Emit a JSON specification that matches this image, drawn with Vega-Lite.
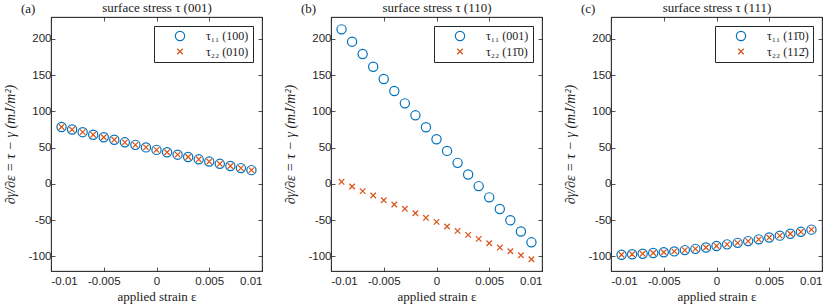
{
  "$schema": "https://vega.github.io/schema/vega-lite/v6.json",
  "padding": {"left": 3, "top": 1, "right": 10, "bottom": 0},
  "background": "white",
  "spacing": 20,
  "config": {
    "view": {"stroke": "#262626", "strokeWidth": 0.8},
    "axis": {
      "grid": false,
      "domainColor": "#262626", "domainWidth": 0.8,
      "tickColor": "#262626", "tickWidth": 0.8, "tickSize": -4,
      "labelColor": "#262626", "labelFont": "Liberation Sans", "labelFontSize": 11.5,
      "titleFont": "Liberation Serif", "titleFontSize": 13, "titleFontWeight": "normal", "titleColor": "#1a1a1a"
    },
    "legend": {
      "labelFont": "Liberation Serif", "labelFontSize": 12, "labelColor": "#1a1a1a",
      "strokeColor": "#262626", "fillColor": "white", "padding": 4,
      "symbolOffset": 16, "labelOffset": 20, "rowPadding": 1.5,
      "symbolSize": 85, "symbolStrokeWidth": 1.2, "symbolOpacity": 1
    },
    "title": {"font": "Liberation Serif", "fontSize": 13, "fontWeight": "normal", "color": "#1a1a1a"}
  },
  "resolve": {"scale": {"color": "independent", "shape": "independent"}},
  "datasets": {
    "d": [
      {"panel": "a", "series": "τ₁₁ (100)", "eps": -0.009, "val": 78.5},
      {"panel": "a", "series": "τ₁₁ (100)", "eps": -0.008, "val": 74.9},
      {"panel": "a", "series": "τ₁₁ (100)", "eps": -0.007, "val": 71.3},
      {"panel": "a", "series": "τ₁₁ (100)", "eps": -0.006, "val": 67.8},
      {"panel": "a", "series": "τ₁₁ (100)", "eps": -0.005, "val": 64.3},
      {"panel": "a", "series": "τ₁₁ (100)", "eps": -0.004, "val": 60.8},
      {"panel": "a", "series": "τ₁₁ (100)", "eps": -0.003, "val": 57.3},
      {"panel": "a", "series": "τ₁₁ (100)", "eps": -0.002, "val": 53.8},
      {"panel": "a", "series": "τ₁₁ (100)", "eps": -0.001, "val": 50.3},
      {"panel": "a", "series": "τ₁₁ (100)", "eps": 0.0, "val": 46.9},
      {"panel": "a", "series": "τ₁₁ (100)", "eps": 0.001, "val": 43.6},
      {"panel": "a", "series": "τ₁₁ (100)", "eps": 0.002, "val": 40.3},
      {"panel": "a", "series": "τ₁₁ (100)", "eps": 0.003, "val": 37.1},
      {"panel": "a", "series": "τ₁₁ (100)", "eps": 0.004, "val": 33.9},
      {"panel": "a", "series": "τ₁₁ (100)", "eps": 0.005, "val": 30.8},
      {"panel": "a", "series": "τ₁₁ (100)", "eps": 0.006, "val": 27.7},
      {"panel": "a", "series": "τ₁₁ (100)", "eps": 0.007, "val": 24.7},
      {"panel": "a", "series": "τ₁₁ (100)", "eps": 0.008, "val": 21.8},
      {"panel": "a", "series": "τ₁₁ (100)", "eps": 0.009, "val": 19.0},
      {"panel": "a", "series": "τ₂₂ (010)", "eps": -0.009, "val": 78.5},
      {"panel": "a", "series": "τ₂₂ (010)", "eps": -0.008, "val": 74.9},
      {"panel": "a", "series": "τ₂₂ (010)", "eps": -0.007, "val": 71.3},
      {"panel": "a", "series": "τ₂₂ (010)", "eps": -0.006, "val": 67.8},
      {"panel": "a", "series": "τ₂₂ (010)", "eps": -0.005, "val": 64.3},
      {"panel": "a", "series": "τ₂₂ (010)", "eps": -0.004, "val": 60.8},
      {"panel": "a", "series": "τ₂₂ (010)", "eps": -0.003, "val": 57.3},
      {"panel": "a", "series": "τ₂₂ (010)", "eps": -0.002, "val": 53.8},
      {"panel": "a", "series": "τ₂₂ (010)", "eps": -0.001, "val": 50.3},
      {"panel": "a", "series": "τ₂₂ (010)", "eps": 0.0, "val": 46.9},
      {"panel": "a", "series": "τ₂₂ (010)", "eps": 0.001, "val": 43.6},
      {"panel": "a", "series": "τ₂₂ (010)", "eps": 0.002, "val": 40.3},
      {"panel": "a", "series": "τ₂₂ (010)", "eps": 0.003, "val": 37.1},
      {"panel": "a", "series": "τ₂₂ (010)", "eps": 0.004, "val": 33.9},
      {"panel": "a", "series": "τ₂₂ (010)", "eps": 0.005, "val": 30.8},
      {"panel": "a", "series": "τ₂₂ (010)", "eps": 0.006, "val": 27.7},
      {"panel": "a", "series": "τ₂₂ (010)", "eps": 0.007, "val": 24.7},
      {"panel": "a", "series": "τ₂₂ (010)", "eps": 0.008, "val": 21.8},
      {"panel": "a", "series": "τ₂₂ (010)", "eps": 0.009, "val": 19.0},

      {"panel": "b", "series": "τ₁₁ (001)", "eps": -0.009, "val": 213},
      {"panel": "b", "series": "τ₁₁ (001)", "eps": -0.008, "val": 196},
      {"panel": "b", "series": "τ₁₁ (001)", "eps": -0.007, "val": 179},
      {"panel": "b", "series": "τ₁₁ (001)", "eps": -0.006, "val": 161.5},
      {"panel": "b", "series": "τ₁₁ (001)", "eps": -0.005, "val": 144.5},
      {"panel": "b", "series": "τ₁₁ (001)", "eps": -0.004, "val": 128},
      {"panel": "b", "series": "τ₁₁ (001)", "eps": -0.003, "val": 111},
      {"panel": "b", "series": "τ₁₁ (001)", "eps": -0.002, "val": 94.5},
      {"panel": "b", "series": "τ₁₁ (001)", "eps": -0.001, "val": 78},
      {"panel": "b", "series": "τ₁₁ (001)", "eps": 0.0, "val": 61.5},
      {"panel": "b", "series": "τ₁₁ (001)", "eps": 0.001, "val": 45.5},
      {"panel": "b", "series": "τ₁₁ (001)", "eps": 0.002, "val": 29},
      {"panel": "b", "series": "τ₁₁ (001)", "eps": 0.003, "val": 13},
      {"panel": "b", "series": "τ₁₁ (001)", "eps": 0.004, "val": -3},
      {"panel": "b", "series": "τ₁₁ (001)", "eps": 0.005, "val": -18.5},
      {"panel": "b", "series": "τ₁₁ (001)", "eps": 0.006, "val": -34.5},
      {"panel": "b", "series": "τ₁₁ (001)", "eps": 0.007, "val": -50},
      {"panel": "b", "series": "τ₁₁ (001)", "eps": 0.008, "val": -65.5},
      {"panel": "b", "series": "τ₁₁ (001)", "eps": 0.009, "val": -80.5},
      {"panel": "b", "series": "τ₂₂ (11̄0)", "eps": -0.009, "val": 2.9},
      {"panel": "b", "series": "τ₂₂ (11̄0)", "eps": -0.008, "val": -3.6},
      {"panel": "b", "series": "τ₂₂ (11̄0)", "eps": -0.007, "val": -10},
      {"panel": "b", "series": "τ₂₂ (11̄0)", "eps": -0.006, "val": -16},
      {"panel": "b", "series": "τ₂₂ (11̄0)", "eps": -0.005, "val": -22.5},
      {"panel": "b", "series": "τ₂₂ (11̄0)", "eps": -0.004, "val": -28.4},
      {"panel": "b", "series": "τ₂₂ (11̄0)", "eps": -0.003, "val": -34.3},
      {"panel": "b", "series": "τ₂₂ (11̄0)", "eps": -0.002, "val": -40.4},
      {"panel": "b", "series": "τ₂₂ (11̄0)", "eps": -0.001, "val": -46.7},
      {"panel": "b", "series": "τ₂₂ (11̄0)", "eps": 0.0, "val": -52.3},
      {"panel": "b", "series": "τ₂₂ (11̄0)", "eps": 0.001, "val": -58.7},
      {"panel": "b", "series": "τ₂₂ (11̄0)", "eps": 0.002, "val": -64.7},
      {"panel": "b", "series": "τ₂₂ (11̄0)", "eps": 0.003, "val": -70.2},
      {"panel": "b", "series": "τ₂₂ (11̄0)", "eps": 0.004, "val": -75.7},
      {"panel": "b", "series": "τ₂₂ (11̄0)", "eps": 0.005, "val": -81.8},
      {"panel": "b", "series": "τ₂₂ (11̄0)", "eps": 0.006, "val": -87.7},
      {"panel": "b", "series": "τ₂₂ (11̄0)", "eps": 0.007, "val": -92.8},
      {"panel": "b", "series": "τ₂₂ (11̄0)", "eps": 0.008, "val": -98.3},
      {"panel": "b", "series": "τ₂₂ (11̄0)", "eps": 0.009, "val": -103.8},

      {"panel": "c", "series": "τ₁₁ (11̄0)", "eps": -0.009, "val": -97.6},
      {"panel": "c", "series": "τ₁₁ (11̄0)", "eps": -0.008, "val": -97.0},
      {"panel": "c", "series": "τ₁₁ (11̄0)", "eps": -0.007, "val": -96.2},
      {"panel": "c", "series": "τ₁₁ (11̄0)", "eps": -0.006, "val": -95.2},
      {"panel": "c", "series": "τ₁₁ (11̄0)", "eps": -0.005, "val": -94.2},
      {"panel": "c", "series": "τ₁₁ (11̄0)", "eps": -0.004, "val": -93.0},
      {"panel": "c", "series": "τ₁₁ (11̄0)", "eps": -0.003, "val": -91.2},
      {"panel": "c", "series": "τ₁₁ (11̄0)", "eps": -0.002, "val": -89.5},
      {"panel": "c", "series": "τ₁₁ (11̄0)", "eps": -0.001, "val": -87.6},
      {"panel": "c", "series": "τ₁₁ (11̄0)", "eps": 0.0, "val": -85.5},
      {"panel": "c", "series": "τ₁₁ (11̄0)", "eps": 0.001, "val": -83.3},
      {"panel": "c", "series": "τ₁₁ (11̄0)", "eps": 0.002, "val": -81.2},
      {"panel": "c", "series": "τ₁₁ (11̄0)", "eps": 0.003, "val": -78.8},
      {"panel": "c", "series": "τ₁₁ (11̄0)", "eps": 0.004, "val": -76.4},
      {"panel": "c", "series": "τ₁₁ (11̄0)", "eps": 0.005, "val": -73.9},
      {"panel": "c", "series": "τ₁₁ (11̄0)", "eps": 0.006, "val": -71.3},
      {"panel": "c", "series": "τ₁₁ (11̄0)", "eps": 0.007, "val": -68.7},
      {"panel": "c", "series": "τ₁₁ (11̄0)", "eps": 0.008, "val": -66.0},
      {"panel": "c", "series": "τ₁₁ (11̄0)", "eps": 0.009, "val": -63.0},
      {"panel": "c", "series": "τ₂₂ (112̄)", "eps": -0.009, "val": -97.6},
      {"panel": "c", "series": "τ₂₂ (112̄)", "eps": -0.008, "val": -97.0},
      {"panel": "c", "series": "τ₂₂ (112̄)", "eps": -0.007, "val": -96.2},
      {"panel": "c", "series": "τ₂₂ (112̄)", "eps": -0.006, "val": -95.2},
      {"panel": "c", "series": "τ₂₂ (112̄)", "eps": -0.005, "val": -94.2},
      {"panel": "c", "series": "τ₂₂ (112̄)", "eps": -0.004, "val": -93.0},
      {"panel": "c", "series": "τ₂₂ (112̄)", "eps": -0.003, "val": -91.2},
      {"panel": "c", "series": "τ₂₂ (112̄)", "eps": -0.002, "val": -89.5},
      {"panel": "c", "series": "τ₂₂ (112̄)", "eps": -0.001, "val": -87.6},
      {"panel": "c", "series": "τ₂₂ (112̄)", "eps": 0.0, "val": -85.5},
      {"panel": "c", "series": "τ₂₂ (112̄)", "eps": 0.001, "val": -83.3},
      {"panel": "c", "series": "τ₂₂ (112̄)", "eps": 0.002, "val": -81.2},
      {"panel": "c", "series": "τ₂₂ (112̄)", "eps": 0.003, "val": -78.8},
      {"panel": "c", "series": "τ₂₂ (112̄)", "eps": 0.004, "val": -76.4},
      {"panel": "c", "series": "τ₂₂ (112̄)", "eps": 0.005, "val": -73.9},
      {"panel": "c", "series": "τ₂₂ (112̄)", "eps": 0.006, "val": -71.3},
      {"panel": "c", "series": "τ₂₂ (112̄)", "eps": 0.007, "val": -68.7},
      {"panel": "c", "series": "τ₂₂ (112̄)", "eps": 0.008, "val": -66.0},
      {"panel": "c", "series": "τ₂₂ (112̄)", "eps": 0.009, "val": -63.0}
    ]
  },
  "hconcat": [
    {
      "width": 211, "height": 254,
      "title": {"text": "(a)", "anchor": "start", "frame": "bounds", "offset": -14, "dx": 17},
      "data": {"name": "d"},
      "transform": [{"filter": "datum.panel == 'a'"}],
      "resolve": {"axis": {"x": "independent", "y": "independent"}},
      "layer": [
        {
          "mark": {"type": "point", "filled": false, "strokeWidth": 1.2, "size": 85, "opacity": 1},
          "encoding": {
            "x": {"field": "eps", "type": "quantitative", "scale": {"domain": [-0.01, 0.01], "nice": false},
                  "axis": {"orient": "bottom", "values": [-0.01, -0.005, 0, 0.005, 0.01], "labelExpr": "'' + datum.value", "labelPadding": 8, "titlePadding": 4, "title": "applied strain ε"}},
            "y": {"field": "val", "type": "quantitative", "scale": {"domain": [-120, 230], "nice": false},
                  "axis": {"orient": "left", "values": [-100, -50, 0, 50, 100, 150, 200], "labelExpr": "'' + datum.value", "labelPadding": 4, "titlePadding": 10, "titleFontStyle": "italic", "titleFontSize": 14, "title": "∂γ/∂ε = τ − γ (mJ/m²)"}},
            "color": {"field": "series", "type": "nominal", "scale": {"domain": ["τ₁₁ (100)", "τ₂₂ (010)"], "range": ["#0072BD", "#D95319"]},
                      "legend": {"orient": "top-right", "offset": 9, "title": null}},
            "shape": {"field": "series", "type": "nominal", "scale": {"domain": ["τ₁₁ (100)", "τ₂₂ (010)"], "range": ["circle", "M-0.6,-0.6L0.6,0.6M0.6,-0.6L-0.6,0.6"]},
                      "legend": {"orient": "top-right", "offset": 9, "title": null}}
          }
        },
        {
          "mark": {"type": "point", "opacity": 0},
          "encoding": {
            "x": {"field": "eps", "type": "quantitative", "scale": {"domain": [-0.01, 0.01], "nice": false},
                  "axis": {"orient": "top", "values": [-0.01, -0.005, 0, 0.005, 0.01], "labels": false, "titlePadding": 2, "title": "surface stress τ (001)"}},
            "y": {"field": "val", "type": "quantitative", "scale": {"domain": [-120, 230], "nice": false},
                  "axis": {"orient": "right", "values": [-100, -50, 0, 50, 100, 150, 200], "labels": false, "title": null}}
          }
        }
      ]
    },
    {
      "width": 211, "height": 254,
      "title": {"text": "(b)", "anchor": "start", "frame": "bounds", "offset": -14, "dx": 17},
      "data": {"name": "d"},
      "transform": [{"filter": "datum.panel == 'b'"}],
      "resolve": {"axis": {"x": "independent", "y": "independent"}},
      "layer": [
        {
          "mark": {"type": "point", "filled": false, "strokeWidth": 1.2, "size": 85, "opacity": 1},
          "encoding": {
            "x": {"field": "eps", "type": "quantitative", "scale": {"domain": [-0.01, 0.01], "nice": false},
                  "axis": {"orient": "bottom", "values": [-0.01, -0.005, 0, 0.005, 0.01], "labelExpr": "'' + datum.value", "labelPadding": 8, "titlePadding": 4, "title": "applied strain ε"}},
            "y": {"field": "val", "type": "quantitative", "scale": {"domain": [-120, 230], "nice": false},
                  "axis": {"orient": "left", "values": [-100, -50, 0, 50, 100, 150, 200], "labelExpr": "'' + datum.value", "labelPadding": 4, "titlePadding": 10, "titleFontStyle": "italic", "titleFontSize": 14, "title": "∂γ/∂ε = τ − γ (mJ/m²)"}},
            "color": {"field": "series", "type": "nominal", "scale": {"domain": ["τ₁₁ (001)", "τ₂₂ (11̄0)"], "range": ["#0072BD", "#D95319"]},
                      "legend": {"orient": "top-right", "offset": 9, "title": null}},
            "shape": {"field": "series", "type": "nominal", "scale": {"domain": ["τ₁₁ (001)", "τ₂₂ (11̄0)"], "range": ["circle", "M-0.6,-0.6L0.6,0.6M0.6,-0.6L-0.6,0.6"]},
                      "legend": {"orient": "top-right", "offset": 9, "title": null}}
          }
        },
        {
          "mark": {"type": "point", "opacity": 0},
          "encoding": {
            "x": {"field": "eps", "type": "quantitative", "scale": {"domain": [-0.01, 0.01], "nice": false},
                  "axis": {"orient": "top", "values": [-0.01, -0.005, 0, 0.005, 0.01], "labels": false, "titlePadding": 2, "title": "surface stress τ (110)"}},
            "y": {"field": "val", "type": "quantitative", "scale": {"domain": [-120, 230], "nice": false},
                  "axis": {"orient": "right", "values": [-100, -50, 0, 50, 100, 150, 200], "labels": false, "title": null}}
          }
        }
      ]
    },
    {
      "width": 211, "height": 254,
      "title": {"text": "(c)", "anchor": "start", "frame": "bounds", "offset": -14, "dx": 17},
      "data": {"name": "d"},
      "transform": [{"filter": "datum.panel == 'c'"}],
      "resolve": {"axis": {"x": "independent", "y": "independent"}},
      "layer": [
        {
          "mark": {"type": "point", "filled": false, "strokeWidth": 1.2, "size": 85, "opacity": 1},
          "encoding": {
            "x": {"field": "eps", "type": "quantitative", "scale": {"domain": [-0.01, 0.01], "nice": false},
                  "axis": {"orient": "bottom", "values": [-0.01, -0.005, 0, 0.005, 0.01], "labelExpr": "'' + datum.value", "labelPadding": 8, "titlePadding": 4, "title": "applied strain ε"}},
            "y": {"field": "val", "type": "quantitative", "scale": {"domain": [-120, 230], "nice": false},
                  "axis": {"orient": "left", "values": [-100, -50, 0, 50, 100, 150, 200], "labelExpr": "'' + datum.value", "labelPadding": 4, "titlePadding": 10, "titleFontStyle": "italic", "titleFontSize": 14, "title": "∂γ/∂ε = τ − γ (mJ/m²)"}},
            "color": {"field": "series", "type": "nominal", "scale": {"domain": ["τ₁₁ (11̄0)", "τ₂₂ (112̄)"], "range": ["#0072BD", "#D95319"]},
                      "legend": {"orient": "top-right", "offset": 9, "title": null}},
            "shape": {"field": "series", "type": "nominal", "scale": {"domain": ["τ₁₁ (11̄0)", "τ₂₂ (112̄)"], "range": ["circle", "M-0.6,-0.6L0.6,0.6M0.6,-0.6L-0.6,0.6"]},
                      "legend": {"orient": "top-right", "offset": 9, "title": null}}
          }
        },
        {
          "mark": {"type": "point", "opacity": 0},
          "encoding": {
            "x": {"field": "eps", "type": "quantitative", "scale": {"domain": [-0.01, 0.01], "nice": false},
                  "axis": {"orient": "top", "values": [-0.01, -0.005, 0, 0.005, 0.01], "labels": false, "titlePadding": 2, "title": "surface stress τ (111)"}},
            "y": {"field": "val", "type": "quantitative", "scale": {"domain": [-120, 230], "nice": false},
                  "axis": {"orient": "right", "values": [-100, -50, 0, 50, 100, 150, 200], "labels": false, "title": null}}
          }
        }
      ]
    }
  ]
}
